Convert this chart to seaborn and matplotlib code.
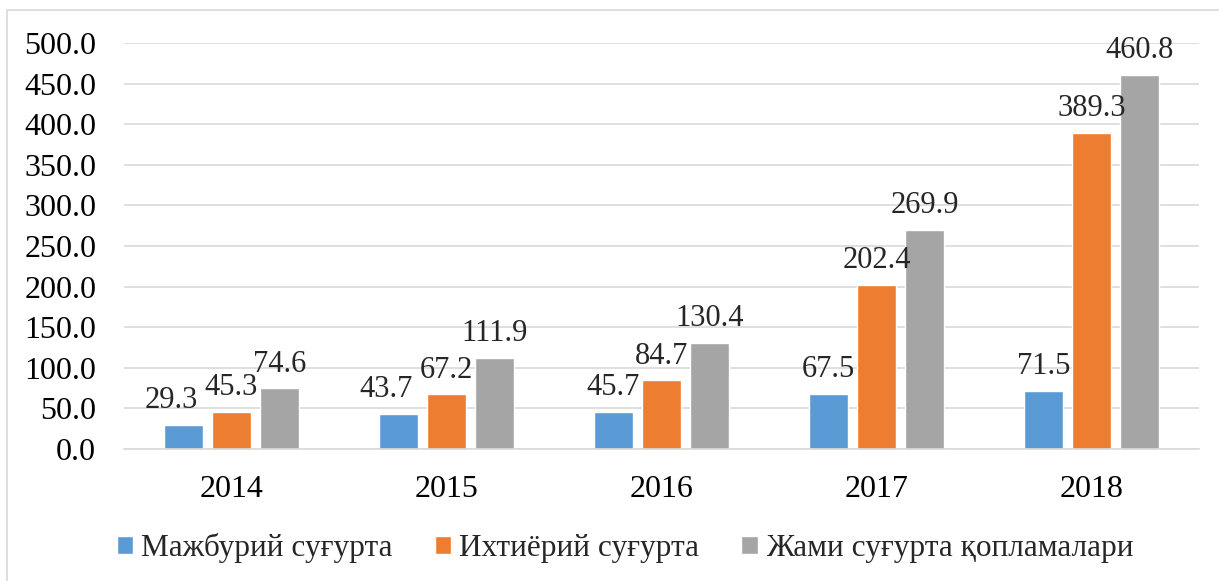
import pandas as pd
import matplotlib.pyplot as plt
import seaborn as sns
from matplotlib.patches import Rectangle

# --- data ---
years = ["2014", "2015", "2016", "2017", "2018"]
series = ["Мажбурий суғурта", "Ихтиёрий суғурта", "Жами суғурта қопламалари"]
mandatory = [29.3, 43.7, 45.7, 67.5, 71.5]
voluntary = [45.3, 67.2, 84.7, 202.4, 389.3]
total = [74.6, 111.9, 130.4, 269.9, 460.8]
colors = ["#5B9BD5", "#ED7D31", "#A5A5A5"]

df = pd.DataFrame({
    "year": years * 3,
    "kind": [series[0]] * 5 + [series[1]] * 5 + [series[2]] * 5,
    "value": mandatory + voluntary + total,
})

sns.set_theme(style="white")
plt.rcParams["font.family"] = ["Liberation Serif", "DejaVu Serif"]

fig = plt.figure(figsize=(12.19, 5.81), dpi=100)
ax = fig.add_axes([124 / 1219, 1 - 449 / 581, 1075 / 1219, 406 / 581])

sns.barplot(data=df, x="year", y="value", hue="kind", palette=colors,
            width=0.67, gap=0.2, saturation=1, ax=ax, legend=True)

# value labels above bars
for i, cont in enumerate(ax.containers):
    anns = ax.bar_label(cont, fmt="%.1f", padding=7, fontsize=22)
    if i == 0:
        # the first two blue labels sit a little to the left in the original
        for a in anns[:2]:
            dx, dy = a.xyann
            a.xyann = (dx - 9, dy)

ax.set_ylim(0, 500)
ax.set_xlim(-0.5, 4.5)
ax.set_yticks(range(0, 501, 50))
ax.set_yticklabels([f"{v:.1f}" for v in range(0, 501, 50)])
ax.yaxis.grid(True, color="#D9D9D9", linewidth=1.2)
ax.set_axisbelow(True)
ax.tick_params(axis="both", labelsize=23, length=0, colors="black")
ax.tick_params(axis="x", pad=19)
ax.tick_params(axis="y", pad=20)
ax.set_xlabel("")
ax.set_ylabel("")
for s in ["left", "right", "top"]:
    ax.spines[s].set_visible(False)
ax.spines["bottom"].set_color("#D9D9D9")
ax.spines["bottom"].set_linewidth(1.2)

handles, labels = ax.get_legend_handles_labels()
ax.legend_.remove()
fig.legend(handles, labels, loc="center", bbox_to_anchor=(625 / 1219, 1 - 548 / 581),
           ncol=3, frameon=False, fontsize=22.5, handlelength=0.52, handleheight=0.52,
           handletextpad=0.26, columnspacing=1.35)

# thin chart-area border
fig.patches.append(Rectangle((7 / 1219, -0.05), 1.2, 1 - 10 / 581 + 0.05,
                             transform=fig.transFigure, fill=False,
                             edgecolor="#D9D9D9", linewidth=1.2))

fig.savefig("out.png", dpi=100)
